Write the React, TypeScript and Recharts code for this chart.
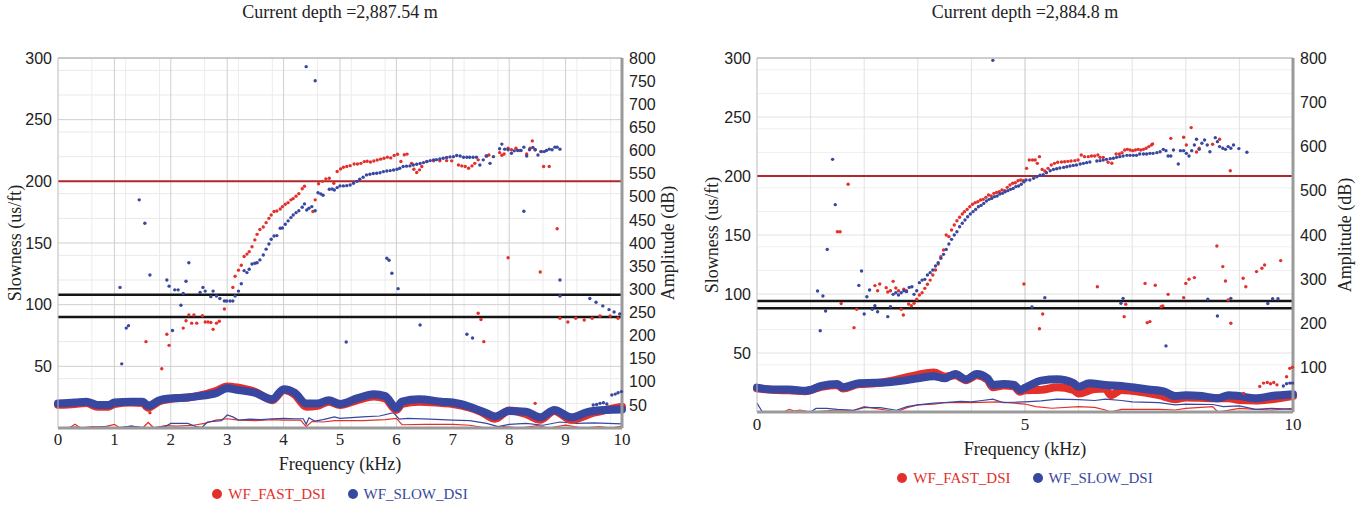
import React from 'react';
import {
  CartesianGrid,
  ComposedChart,
  Label,
  Line,
  ReferenceLine,
  Scatter,
  XAxis,
  YAxis,
} from 'recharts';

type Pt = [number, number];

// ---- axis ticks ----
const SLOW_TICKS = [50, 100, 150, 200, 250, 300];
const AMP_TICKS = [50, 100, 150, 200, 250, 300, 350, 400, 450, 500, 550, 600, 650, 700, 750, 800];
const L_FREQ_TICKS = [0, 1, 2, 3, 4, 5, 6, 7, 8, 9, 10];
const R_FREQ_TICKS = [0, 5, 10];

// ---- left panel (depth 2,887.54 m) : slowness points [kHz, us/ft] ----
const L_SLOW: Pt[] = [
  [1.1, 114], [1.13, 52], [1.21, 81], [1.25, 83], [1.44, 185], [1.54, 166], [1.63, 124],
  [1.93, 120], [1.97, 115], [2.03, 79], [2.07, 112], [2.13, 112], [2.18, 99.5], [2.22, 109],
  [2.27, 119], [2.32, 134], [2.52, 110], [2.57, 114], [2.61, 111], [2.71, 106.5], [2.75, 111],
  [2.81, 107], [2.87, 105], [2.95, 103], [2.99, 103], [3.05, 103], [3.1, 103], [3.14, 107],
  [3.2, 111], [3.25, 117], [3.3, 127.6], [3.35, 126], [3.39, 128.7], [3.44, 133], [3.49, 133.6],
  [3.53, 134], [3.58, 136.3], [3.64, 140.3], [3.69, 145], [3.74, 149.2], [3.78, 153], [3.83, 155.7],
  [3.88, 156], [3.94, 162], [3.98, 162.2], [4.03, 165.2], [4.08, 167.9], [4.13, 170.6], [4.17, 172.7],
  [4.22, 174.6], [4.27, 176.2], [4.33, 179], [4.37, 181.7], [4.41, 176.8], [4.45, 178.2], [4.5, 179.5],
  [4.56, 176.2], [4.61, 190.8], [4.66, 189.8], [4.7, 188.7], [4.81, 193.6], [4.86, 193.8], [4.9, 193],
  [4.95, 194.9], [5.0, 196.3], [5.06, 196.3], [5.12, 196.5], [5.18, 197], [5.24, 198.4], [5.3, 200],
  [5.35, 201.7], [5.41, 203.3], [5.47, 205.2], [5.53, 205.7], [5.59, 206.3], [5.65, 206.6], [5.71, 207],
  [5.77, 207.9], [5.83, 208.4], [5.89, 208.7], [5.95, 209.2], [6.01, 209.8], [6.06, 210.6], [6.12, 212],
  [6.18, 212.3], [6.24, 212.5], [6.3, 213.3], [6.36, 213.8], [6.42, 214.4], [6.48, 215.2], [6.54, 216],
  [6.6, 216.8], [6.66, 217.4], [6.71, 217.6], [6.77, 218.2], [6.83, 218.7], [6.89, 219.3], [6.95, 219.8],
  [7.01, 220], [7.07, 220.9], [7.13, 220.6], [7.19, 219.5], [7.25, 219.5], [7.3, 219.5], [7.36, 219.5],
  [7.42, 219.5], [7.48, 213.3], [7.54, 217.4], [7.6, 220.6], [7.66, 214.6], [7.72, 220], [7.83, 226.4],
  [7.87, 230.2], [7.92, 226.1], [7.98, 225.6], [8.04, 222.8], [8.09, 224.7], [8.15, 225], [8.21, 225],
  [8.26, 227.7], [8.31, 220.6], [8.36, 225.6], [8.42, 227.5], [8.46, 225.6], [8.51, 221.4], [8.57, 224.1],
  [8.62, 224.1], [8.66, 225], [8.71, 226.1], [8.76, 225.6], [8.81, 227.7], [8.85, 227.7], [8.9, 226.1],
  [8.26, 175.7], [4.4, 293], [4.56, 281.5], [5.11, 69.7], [5.83, 137.6], [5.87, 136], [5.92, 125.5],
  [6.03, 113], [6.42, 83.5], [7.25, 76], [7.35, 73], [8.9, 120], [8.9, 107], [9.43, 105], [9.54, 102],
  [9.66, 99], [9.77, 96], [9.86, 94], [9.96, 92.5], [9.49, 18.6], [9.55, 19], [9.61, 20], [9.67, 20.5],
  [9.73, 19.5], [9.82, 26.8], [9.88, 27.5], [9.93, 28.6], [9.99, 29.5],
];

const L_FAST: Pt[] = [
  [1.56, 70], [1.63, 12.4], [1.84, 48], [1.93, 76], [1.97, 67], [2.22, 81], [2.27, 87], [2.32, 91.6],
  [2.37, 85], [2.41, 91.6], [2.46, 85], [2.56, 91], [2.61, 86], [2.66, 86], [2.71, 85.5], [2.75, 80],
  [2.81, 85], [2.86, 86.5], [2.95, 96.5], [3.1, 114], [3.14, 123], [3.2, 128], [3.25, 132], [3.3, 139],
  [3.35, 141], [3.39, 143], [3.44, 147], [3.49, 152.5], [3.53, 157], [3.58, 161], [3.64, 163],
  [3.69, 166.5], [3.74, 170], [3.78, 172.7], [3.83, 175.5], [3.88, 176], [3.94, 177.6], [3.98, 179.5],
  [4.03, 181.4], [4.08, 182.7], [4.13, 185], [4.17, 186], [4.22, 188], [4.27, 190], [4.33, 194],
  [4.37, 196], [4.52, 175.5], [4.56, 185], [4.62, 198], [4.69, 200], [4.75, 202], [4.81, 202.5],
  [4.89, 198.5], [4.95, 208], [5.01, 210], [5.06, 211.4], [5.12, 212], [5.18, 212.7], [5.25, 214],
  [5.31, 214], [5.37, 214.6], [5.43, 216], [5.48, 216.3], [5.54, 215.7], [5.6, 216.5], [5.66, 217.3],
  [5.72, 218], [5.78, 218.7], [5.84, 219.6], [5.9, 219], [5.96, 221], [6.02, 222], [6.08, 216.1],
  [6.14, 221.6], [6.19, 222.1], [6.27, 214.6], [6.31, 209.8], [6.36, 207.2], [6.41, 209.3], [6.45, 212],
  [6.54, 216.1], [6.66, 216.6], [6.77, 216.6], [6.89, 216.8], [6.98, 216.6], [7.1, 213.3], [7.16, 212.5],
  [7.22, 212], [7.28, 210.6], [7.34, 212.5], [7.39, 214.6], [7.45, 217.4], [7.59, 220.6], [7.64, 221.4],
  [7.83, 223.3], [7.87, 221.1], [7.91, 222.2], [7.98, 226.8], [8.04, 225.6], [8.12, 226.8], [8.19, 225],
  [8.31, 222.2], [8.37, 226.8], [8.41, 232.8], [8.46, 225.6], [8.56, 224.1], [8.61, 212], [8.71, 212],
  [8.85, 161.6], [7.45, 93], [7.5, 88], [7.55, 70], [7.98, 138], [8.46, 20], [8.55, 126.5], [8.9, 89],
  [9.04, 86], [9.18, 89], [9.33, 87.6], [9.47, 89], [9.61, 90.8], [9.79, 90.8], [9.93, 89],
];

// ---- left panel : amplitude traces [kHz, dB] ----
const L_FAST_AMP: Pt[] = [
  [0, 50], [0.3, 52], [0.5, 54], [0.7, 46], [0.9, 46], [1.0, 52], [1.3, 55], [1.5, 54], [1.6, 44],
  [1.8, 58], [2.0, 63], [2.3, 66], [2.5, 70], [2.8, 80], [3.0, 90], [3.2, 87], [3.5, 78], [3.8, 60],
  [4.0, 82], [4.2, 72], [4.4, 46], [4.6, 48], [4.8, 57], [5.0, 50], [5.3, 60], [5.6, 68], [5.8, 64],
  [6.0, 39], [6.1, 52], [6.4, 57], [6.8, 54], [7.0, 52], [7.3, 44], [7.5, 35], [7.75, 20], [8.0, 38],
  [8.3, 30], [8.55, 18], [8.8, 37], [9.1, 18], [9.5, 33], [10, 46],
];
const L_SLOW_AMP: Pt[] = [
  [0, 53], [0.3, 55], [0.5, 57], [0.7, 50], [0.9, 50], [1.0, 55], [1.3, 57], [1.5, 57], [1.6, 48],
  [1.8, 60], [2.0, 64], [2.3, 66], [2.5, 69], [2.8, 75], [3.0, 86], [3.2, 82], [3.5, 76], [3.8, 62],
  [4.0, 84], [4.2, 76], [4.4, 53], [4.6, 53], [4.8, 60], [5.0, 52], [5.3, 64], [5.6, 73], [5.8, 69],
  [6.0, 43], [6.1, 57], [6.4, 62], [6.8, 57], [7.0, 55], [7.3, 46], [7.6, 32], [7.75, 25], [8.0, 37],
  [8.3, 35], [8.55, 23], [8.8, 39], [9.1, 23], [9.4, 35], [9.7, 39], [10, 40],
];
const L_FAST_LOW: Pt[] = [
  [0, 0], [0.2, 0], [0.3, 8], [0.4, 0], [0.6, 3], [0.8, 2], [1.0, 8], [1.1, 0], [1.3, 4], [1.5, 0],
  [1.6, 12], [1.7, 0], [1.9, 5], [2.1, 4], [2.4, 6], [2.6, 10], [2.8, 17], [3.0, 20], [3.2, 17],
  [3.5, 16], [3.8, 18], [4.0, 17], [4.3, 17], [4.4, 3], [4.5, 14], [4.7, 13], [4.9, 16], [5.0, 16],
  [5.4, 16], [5.8, 18], [6.0, 21], [6.1, 7], [6.5, 8], [7.0, 8], [7.3, 6], [7.6, 0], [7.9, 3], [8.2, 0],
  [8.5, 5], [8.7, 0], [9.0, 6], [9.3, 0], [9.6, 3], [9.8, 0], [10, 4],
];
const L_SLOW_LOW: Pt[] = [
  [0, 0], [0.3, 2], [0.5, 0], [0.8, 3], [1.0, 0], [1.3, 4], [1.6, 0], [1.9, 3], [2.0, 10], [2.3, 10],
  [2.45, 3], [2.55, 1], [2.65, 13], [2.9, 16], [3.0, 28], [3.1, 24], [3.2, 17], [3.4, 19], [3.6, 18],
  [3.8, 20], [4.0, 21], [4.2, 20], [4.35, 20], [4.4, 8], [4.45, 22], [4.55, 15], [4.7, 18], [4.9, 24],
  [5.0, 21], [5.4, 24], [5.7, 26], [5.95, 33], [6.05, 19], [6.2, 21], [6.6, 19], [7.0, 17], [7.3, 16],
  [7.6, 10], [7.8, 3], [8.0, 8], [8.3, 10], [8.6, 6], [8.9, 13], [9.2, 10], [9.5, 11], [10, 9],
];

// ---- right panel (depth 2,884.8 m) : slowness points ----
const R_SLOW: Pt[] = [
  [1.13, 102.5], [1.18, 68.9], [1.23, 98.3], [1.28, 85.6], [1.31, 137.8], [1.41, 214.1], [1.46, 175.7],
  [1.9, 107.3], [1.95, 119.5], [2.0, 83], [2.05, 97.7], [2.1, 103.4], [2.15, 87], [2.2, 90.1], [2.25, 85],
  [2.44, 80.8], [2.49, 89.3], [2.54, 99.7], [2.59, 101.1], [2.64, 99.1], [2.69, 101.1], [2.74, 102.8],
  [2.79, 102], [2.84, 105.6], [2.89, 106.2], [2.93, 99.7], [2.98, 102.8], [3.03, 109.6], [3.08, 111.8],
  [3.13, 112.4], [3.18, 116.1], [3.23, 118.1], [3.28, 120.3], [3.33, 123.7], [3.38, 126.5], [3.43, 130.2],
  [3.48, 133.6], [3.53, 137.8], [3.58, 142.4], [3.63, 146.3], [3.68, 150], [3.73, 152.8], [3.78, 157],
  [3.83, 159.9], [3.88, 162.7], [3.93, 165.5], [3.98, 167.8], [4.03, 169.8], [4.08, 171.7], [4.13, 174],
  [4.18, 175.1], [4.23, 176.8], [4.28, 178.8], [4.33, 180.2], [4.38, 181], [4.43, 182.5], [4.48, 183],
  [4.53, 184.7], [4.58, 185.3], [4.63, 186.7], [4.68, 187.6], [4.73, 188.7], [4.78, 189.5], [4.83, 191],
  [4.88, 191.5], [4.93, 193], [4.98, 195], [5.02, 196.6], [5.09, 196.6], [5.16, 198], [5.22, 199.4],
  [5.28, 200.6], [5.34, 201.1], [5.4, 202.8], [5.47, 204.5], [5.53, 205.6], [5.59, 206.2], [5.65, 206.8],
  [5.72, 207.3], [5.78, 207.9], [5.84, 208.5], [5.9, 209], [5.96, 209.3], [6.03, 210.2], [6.09, 210.7],
  [6.15, 211.3], [6.21, 211.9], [6.34, 212.7], [6.4, 213], [6.46, 213.6], [6.52, 214.1], [6.59, 214.7],
  [6.65, 215], [6.71, 215.8], [6.77, 216.4], [6.83, 217], [6.9, 217.5], [6.96, 217.5], [7.02, 217.5],
  [7.08, 217.5], [7.14, 218.7], [7.21, 218.7], [7.27, 218.7], [7.33, 219.2], [7.39, 219.2], [7.46, 219.8],
  [7.52, 220.6], [7.58, 222.6], [7.63, 221.5], [7.67, 217], [7.72, 217], [7.77, 222], [7.86, 210.2],
  [7.9, 221.5], [7.96, 221.5], [8.01, 219.2], [8.06, 217], [8.11, 221.5], [8.16, 226.3], [8.2, 231.1],
  [8.25, 222.6], [8.3, 227.7], [8.35, 230.5], [8.4, 226.3], [8.45, 220.6], [8.55, 232.5], [8.59, 229.1],
  [8.63, 224.9], [8.69, 223.5], [8.74, 222.6], [8.79, 224.9], [8.84, 223.5], [8.89, 226.3], [8.99, 223.2],
  [9.14, 220.1], [4.4, 298], [5.13, 89], [5.37, 96.9], [6.79, 92.1], [6.83, 96.3], [7.63, 56],
  [8.41, 95.5], [8.59, 81.4], [8.84, 96.3], [9.53, 92], [9.62, 96], [9.72, 96], [9.82, 22], [9.88, 24],
  [9.94, 24.5], [9.99, 24.5],
];

const R_FAST: Pt[] = [
  [1.5, 152.8], [1.55, 152.8], [1.57, 92], [1.7, 193], [1.81, 71.5], [1.86, 87], [2.2, 107.1],
  [2.25, 102.8], [2.29, 108.5], [2.41, 105.4], [2.44, 101.7], [2.49, 102.8], [2.54, 110.7], [2.59, 105.1],
  [2.64, 102.8], [2.69, 87], [2.73, 82.2], [2.74, 104], [2.79, 102.8], [2.83, 91.5], [2.88, 90.1],
  [2.93, 92.1], [2.98, 95.5], [3.03, 99.1], [3.08, 101.1], [3.13, 104.8], [3.18, 108.2], [3.23, 111.8],
  [3.28, 116.1], [3.33, 120.3], [3.38, 125.4], [3.43, 131.6], [3.48, 137.3], [3.53, 150], [3.58, 148.6],
  [3.63, 154.2], [3.68, 158.5], [3.73, 162.1], [3.78, 165], [3.83, 167.8], [3.87, 169.8], [3.92, 171.7],
  [3.97, 174], [4.02, 176], [4.07, 177.4], [4.12, 178.2], [4.17, 179.7], [4.22, 180.2], [4.27, 181.9],
  [4.32, 183.9], [4.37, 183], [4.42, 185.3], [4.47, 186.1], [4.52, 186.7], [4.57, 188.1], [4.62, 187.6],
  [4.67, 190.4], [4.72, 192.4], [4.77, 193.8], [4.82, 194.3], [4.87, 196], [4.92, 196.6], [4.97, 196],
  [5.03, 206.5], [5.08, 213.5], [5.14, 213.5], [5.19, 213.5], [5.23, 210.7], [5.27, 216.4], [5.32, 205.6],
  [5.37, 204.2], [5.43, 206.5], [5.49, 209.3], [5.55, 210.7], [5.61, 211.6], [5.68, 211.9], [5.74, 212.1],
  [5.8, 212.4], [5.86, 212.7], [5.93, 213], [5.99, 213.5], [6.05, 217.8], [6.11, 216.4], [6.18, 216.4],
  [6.24, 217], [6.3, 217], [6.36, 217.8], [6.4, 215.8], [6.46, 215.8], [6.55, 211.6], [6.62, 210.8],
  [6.7, 218.7], [6.76, 218.7], [6.81, 219.8], [6.86, 222], [6.91, 222.6], [6.96, 222], [7.01, 221.5],
  [7.06, 222], [7.11, 222.6], [7.16, 222], [7.21, 222.6], [7.26, 223.5], [7.31, 224.9], [7.36, 226.3],
  [7.38, 227.2], [7.72, 231.9], [7.96, 232.8], [8.01, 226.3], [8.1, 241], [8.2, 220.4], [8.25, 223.5],
  [8.5, 226.9], [8.63, 231.1], [8.83, 204.5], [4.98, 108.5], [5.27, 70.6], [5.33, 83], [6.35, 106.2],
  [6.85, 80.8], [6.88, 91.3], [7.24, 109], [7.28, 75.7], [7.33, 76.6], [7.43, 107.4], [7.54, 89.3],
  [7.57, 89.9], [7.67, 99.7], [7.96, 96.9], [8.0, 109], [8.06, 112.5], [8.16, 113.9], [8.58, 140.7],
  [8.69, 123.2], [8.74, 111], [8.79, 95], [8.84, 75.2], [9.07, 113.3], [9.12, 106.2], [9.32, 119],
  [9.42, 121.8], [9.47, 124.6], [9.77, 128.3], [9.08, 15.8], [9.38, 21.7], [9.45, 24.5], [9.52, 25],
  [9.58, 24], [9.64, 25], [9.7, 23], [9.88, 29.9], [9.94, 37], [9.99, 37.9],
];

// ---- right panel : amplitude traces ----
const R_FAST_AMP: Pt[] = [
  [0, 53], [0.3, 50], [0.6, 49], [0.9, 47], [1.2, 57], [1.5, 61], [1.6, 53], [1.9, 63], [2.2, 65],
  [2.5, 70], [2.8, 79], [3.0, 84], [3.3, 89], [3.5, 80], [3.7, 83], [3.9, 72], [4.1, 83], [4.3, 73],
  [4.4, 56], [4.6, 60], [4.8, 58], [4.9, 46], [5.0, 49], [5.3, 50], [5.6, 56], [5.9, 50], [6.0, 42],
  [6.3, 52], [6.5, 53], [6.6, 38], [6.8, 50], [7.0, 48], [7.5, 38], [7.8, 29], [8.0, 33], [8.5, 31],
  [8.8, 31], [9.0, 27], [9.3, 26], [9.6, 29], [10, 36],
];
const R_SLOW_AMP: Pt[] = [
  [0, 55], [0.3, 51], [0.6, 51], [0.9, 48], [1.0, 50], [1.2, 59], [1.5, 63], [1.6, 56], [1.9, 65],
  [2.2, 66], [2.5, 68], [2.8, 72], [3.0, 76], [3.3, 81], [3.5, 76], [3.7, 86], [3.9, 74], [4.1, 86],
  [4.3, 76], [4.4, 61], [4.6, 63], [4.8, 61], [4.9, 50], [5.05, 58], [5.3, 71], [5.6, 74], [5.9, 66],
  [6.0, 57], [6.2, 65], [6.5, 61], [6.8, 59], [7.0, 56], [7.3, 51], [7.6, 46], [7.8, 36], [8.0, 38],
  [8.3, 36], [8.6, 31], [8.8, 38], [9.0, 36], [9.3, 31], [9.6, 36], [10, 40],
];
const R_FAST_LOW: Pt[] = [
  [0, 0], [0.5, 0], [0.6, 6], [0.7, 2], [0.8, 4.5], [1.0, 0], [1.5, 4.5], [1.8, 3], [2.0, 12], [2.2, 8],
  [2.4, 4.5], [2.6, 0], [2.8, 10], [3.0, 16], [3.3, 18], [3.5, 21], [4.0, 21], [4.5, 23], [4.8, 20],
  [5.0, 18], [5.2, 12], [5.5, 8.5], [6.0, 12], [6.3, 10.5], [6.5, 4.5], [6.6, 0], [6.8, 6], [7.0, 6],
  [7.5, 6], [7.8, 4.5], [8.0, 8], [8.5, 12], [8.6, 0], [9.0, 8], [9.3, 6], [9.6, 4.5], [10, 8],
];
const R_SLOW_LOW: Pt[] = [
  [0, 20], [0.1, 0], [0.5, 0], [1.0, 0], [1.1, 8], [1.3, 8], [1.5, 6], [1.8, 4], [2.0, 10], [2.3, 10],
  [2.6, 4], [2.8, 12], [3.0, 16], [3.3, 20], [3.5, 21], [3.8, 24], [4.0, 23], [4.2, 26], [4.4, 29],
  [4.6, 21], [4.8, 22], [5.0, 23], [5.3, 25], [5.6, 29], [6.0, 28], [6.3, 26], [6.5, 29], [6.8, 26],
  [7.0, 23], [7.5, 21], [7.8, 16], [8.0, 18], [8.5, 17], [8.7, 12], [9.0, 14], [9.3, 6], [9.6, 8], [10, 6],
];

const RED = '#e4302b';
const BLUE = '#3847a0';
const SERIF = '"Liberation Serif", "DejaVu Serif", serif';
const NARROW = '"Liberation Sans Narrow", "Liberation Sans", sans-serif';

const rowsS = (pts: Pt[]) => pts.map(([k, s]) => ({ k, s }));
const rowsA = (pts: Pt[]) => pts.map(([k, a]) => ({ k, a }));

const MINOR_Y = Array.from({ length: 31 }, (_, i) => i * 10).filter(v => v % 50 !== 0);
const MAJOR_Y = [0, 50, 100, 150, 200, 250, 300];
const MINOR_X = Array.from({ length: 51 }, (_, i) => +(i * 0.2).toFixed(1)).filter(v => v % 1 !== 0);
const UNIT_X = [1, 2, 3, 4, 5, 6, 7, 8, 9];

const dot = (color: string) => (p: any) => <circle cx={p.cx} cy={p.cy} r={1.7} fill={color} />;

interface PanelProps {
  x: number;
  title: string;
  leftW: number;
  rightW: number;
  bottomH: number;
  freqTicks: number[];
  fineGrid: boolean;
  fast: Pt[];
  slow: Pt[];
  fastAmp: Pt[];
  slowAmp: Pt[];
  fastLow: Pt[];
  slowLow: Pt[];
  bounds: number[];
  slowLabelOffset: number;
  ampLabelOffset: number;
  freqLabelOffset: number;
  tickGap: number;
  legendTop: number;
}

const W = 680;
const H = 509;
const TOP = 58;

const Panel: React.FC<PanelProps> = p => {
  const tickSerif = { fontFamily: SERIF, fontSize: 17, fill: '#222' };
  const tickSans = { fontFamily: NARROW, fontSize: 16, fill: '#222' };
  const labelStyle = { fontFamily: SERIF, fontSize: 18, fill: '#222', textAnchor: 'middle' as const };
  const plotCenter = p.leftW + (W - p.leftW - p.rightW) / 2;
  return (
    <div style={{ position: 'absolute', left: p.x, top: 0, width: W, height: H }}>
      <ComposedChart width={W} height={H} margin={{ top: 0, right: 0, bottom: 0, left: 0 }}>
        {p.fineGrid && (
          <CartesianGrid xAxisId="bottom" yAxisId="s" horizontal={false} verticalValues={MINOR_X} stroke="#ececec" />
        )}
        <CartesianGrid xAxisId="bottom" yAxisId="s" vertical={false} horizontalValues={MINOR_Y} stroke={p.fineGrid ? '#e9e9e9' : '#efefef'} />
        <CartesianGrid
          xAxisId="bottom"
          yAxisId="s"
          horizontalValues={MAJOR_Y}
          verticalValues={p.fineGrid ? UNIT_X : UNIT_X.filter(v => v !== 5)}
          stroke={p.fineGrid ? '#cfcfcf' : '#e2e2e2'}
        />
        {!p.fineGrid && (
          <CartesianGrid xAxisId="bottom" yAxisId="s" horizontal={false} verticalValues={[5]} stroke="#c6c6c6" />
        )}
        <XAxis
          xAxisId="top"
          orientation="top"
          type="number"
          dataKey="k"
          domain={[0, 10]}
          ticks={p.freqTicks}
          height={TOP}
          tickLine={false}
          tickSize={0}
          tickMargin={7}
          axisLine={{ stroke: '#aaa' }}
          tick={tickSerif}
        >
          <Label value={p.title} position="insideTop" offset={5} style={labelStyle} />
        </XAxis>
        <XAxis
          xAxisId="bottom"
          type="number"
          dataKey="k"
          domain={[0, 10]}
          ticks={p.freqTicks}
          height={p.bottomH}
          tickLine={false}
          tickSize={0}
          tickMargin={p.tickGap}
          axisLine={{ stroke: '#9a9a9a', strokeWidth: 3 }}
          tick={tickSerif}
        >
          <Label value="Frequency (kHz)" position="insideTop" offset={p.freqLabelOffset} style={labelStyle} />
        </XAxis>
        <YAxis
          yAxisId="s"
          type="number"
          domain={[0, 300]}
          ticks={SLOW_TICKS}
          width={p.leftW}
          tickLine={false}
          tickSize={0}
          tickMargin={6}
          axisLine={{ stroke: '#bbb' }}
          tick={tickSans}
        >
          <Label value="Slowness (us/ft)" angle={-90} position="insideLeft" offset={p.slowLabelOffset} style={labelStyle} />
        </YAxis>
        <YAxis
          yAxisId="amp"
          orientation="right"
          type="number"
          domain={[0, 800]}
          ticks={AMP_TICKS}
          width={p.rightW}
          tickLine={false}
          tickSize={0}
          tickMargin={7}
          axisLine={{ stroke: '#9a9a9a', strokeWidth: 3 }}
          tick={tickSans}
        >
          <Label value="Amplitude (dB)" angle={-90} position="insideRight" offset={p.ampLabelOffset} style={labelStyle} />
        </YAxis>

        <ReferenceLine xAxisId="bottom" yAxisId="s" y={200} stroke="#b3262b" strokeWidth={2} />
        {p.bounds.map(b => (
          <ReferenceLine key={b} xAxisId="bottom" yAxisId="s" y={b} stroke="#151515" strokeWidth={2.5} />
        ))}

        <Line xAxisId="bottom" yAxisId="amp" data={rowsA(p.fastLow)} dataKey="a" type="linear" stroke={RED} strokeWidth={1.2} dot={false} isAnimationActive={false} />
        <Line xAxisId="bottom" yAxisId="amp" data={rowsA(p.slowLow)} dataKey="a" type="linear" stroke={BLUE} strokeWidth={1.2} dot={false} isAnimationActive={false} />
        <Line xAxisId="bottom" yAxisId="amp" data={rowsA(p.fastAmp)} dataKey="a" type="monotone" stroke={RED} strokeWidth={8} strokeLinecap="round" dot={false} isAnimationActive={false} />
        <Line xAxisId="bottom" yAxisId="amp" data={rowsA(p.slowAmp)} dataKey="a" type="monotone" stroke={BLUE} strokeWidth={8} strokeLinecap="round" dot={false} isAnimationActive={false} />

        <Scatter xAxisId="bottom" yAxisId="s" data={rowsS(p.fast)} dataKey="s" fill={RED} shape={dot(RED)} isAnimationActive={false} />
        <Scatter xAxisId="bottom" yAxisId="s" data={rowsS(p.slow)} dataKey="s" fill={BLUE} shape={dot(BLUE)} isAnimationActive={false} />
      </ComposedChart>

      <div
        style={{
          position: 'absolute',
          top: p.legendTop,
          left: plotCenter - 150,
          width: 300,
          display: 'flex',
          justifyContent: 'center',
          gap: 22,
          fontFamily: SERIF,
          fontSize: 15,
          lineHeight: '18px',
        }}
      >
        {[
          { name: 'WF_FAST_DSI', color: RED },
          { name: 'WF_SLOW_DSI', color: BLUE },
        ].map(item => (
          <span key={item.name} style={{ display: 'flex', alignItems: 'center', color: item.color }}>
            <span
              style={{
                display: 'inline-block',
                width: 10,
                height: 10,
                borderRadius: 5,
                background: item.color,
                marginRight: 6,
              }}
            />
            {item.name}
          </span>
        ))}
      </div>
    </div>
  );
};

const App: React.FC = () => (
  <div style={{ position: 'absolute', left: 0, top: 0, width: 1360, height: 509, background: '#fff', overflow: 'hidden' }}>
    <Panel
      x={0}
      title="Current depth =2,887.54 m"
      leftW={58}
      rightW={58}
      bottomH={81}
      freqTicks={L_FREQ_TICKS}
      fineGrid
      fast={L_FAST}
      slow={L_SLOW}
      fastAmp={L_FAST_AMP}
      slowAmp={L_SLOW_AMP}
      fastLow={L_FAST_LOW}
      slowLow={L_SLOW_LOW}
      bounds={[108, 90]}
      slowLabelOffset={15}
      ampLabelOffset={12}
      freqLabelOffset={29}
      tickGap={5}
      legendTop={485}
    />
    <Panel
      x={680}
      title="Current depth =2,884.8 m"
      leftW={77}
      rightW={67}
      bottomH={97}
      freqTicks={R_FREQ_TICKS}
      fineGrid={false}
      fast={R_FAST}
      slow={R_SLOW}
      fastAmp={R_FAST_AMP}
      slowAmp={R_SLOW_AMP}
      fastLow={R_FAST_LOW}
      slowLow={R_SLOW_LOW}
      bounds={[94, 88]}
      slowLabelOffset={32}
      ampLabelOffset={15}
      freqLabelOffset={30}
      tickGap={6}
      legendTop={469}
    />
  </div>
);

export default App;
